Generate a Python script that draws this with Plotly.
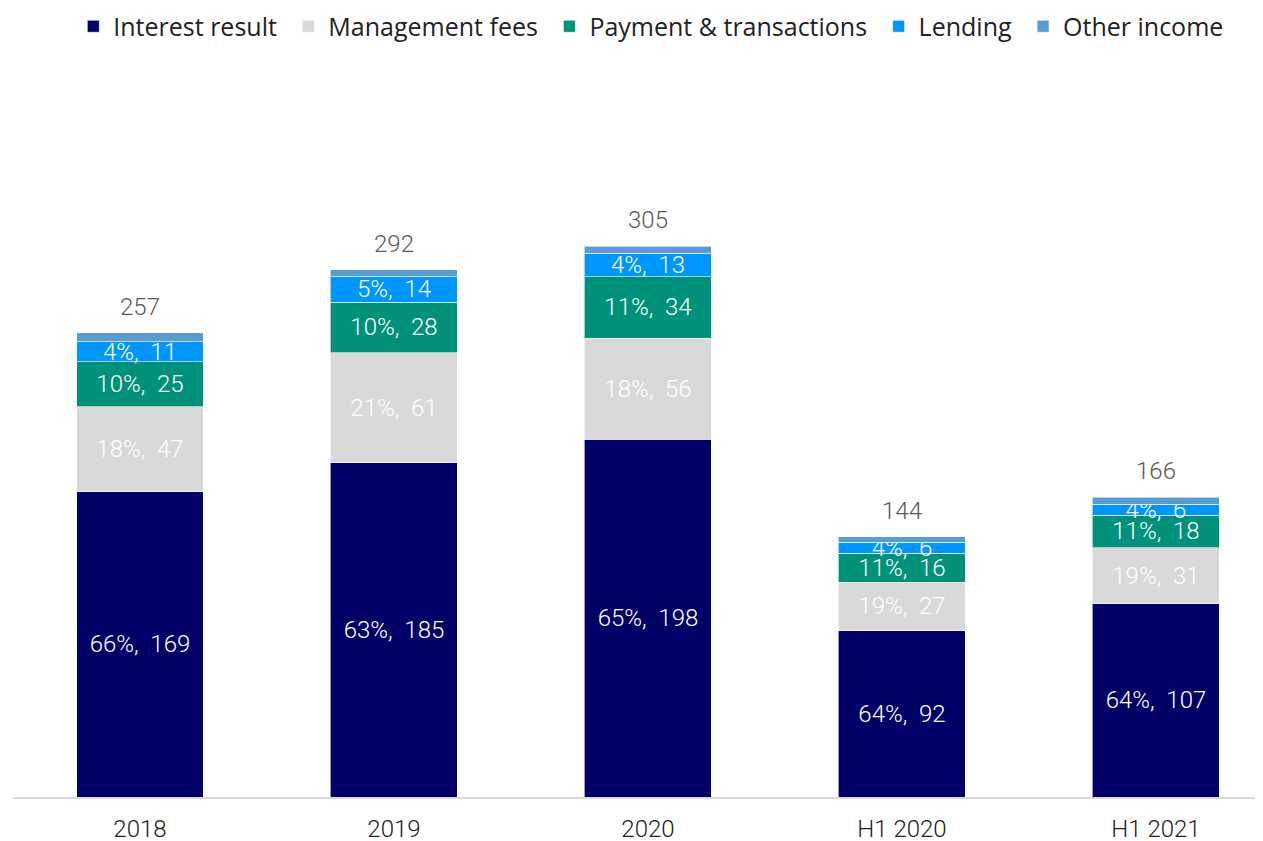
import plotly.graph_objects as go

categories = ["2018", "2019", "2020", "H1 2020", "H1 2021"]
interest = [169, 185, 198, 92, 107]
management = [47, 61, 56, 27, 31]
payment = [25, 28, 34, 16, 18]
lending = [11, 14, 13, 6, 6]
other = [5, 4, 4, 3, 4]
totals = [257, 292, 305, 144, 166]

series = [
    ("Interest result", interest, "#000066", True),
    ("Management fees", management, "#D9D9D9", True),
    ("Payment & transactions", payment, "#00917A", True),
    ("Lending", lending, "#0096FF", True),
    ("Other income", other, "#5B9BD5", False),
]

NB = "\u00a0"

fig = go.Figure()
for name, vals, color, show in series:
    texts = [f"{round(v / t * 100):.0f}%,  {v}" if show else "" for v, t in zip(vals, totals)]
    fig.add_trace(go.Bar(
        name=name + NB, x=categories, y=vals,
        marker=dict(color=color, line=dict(color="rgba(255,255,255,0.6)", width=1)),
        text=texts, textposition="inside", insidetextanchor="middle",
        textfont=dict(color="white", size=24, family="Roboto", weight=300),
        constraintext="none", width=0.5, hoverinfo="skip",
    ))

for i, t in enumerate(totals):
    fig.add_annotation(x=i, y=t, xref="x", yref="y", text=str(t), showarrow=False,
                       yanchor="middle", yshift=26,
                       font=dict(color="#595959", size=24, family="Roboto", weight=300))

fig.update_layout(
    barmode="stack",
    width=1263, height=841,
    margin=dict(l=5, r=0, t=52, b=52),
    plot_bgcolor="white", paper_bgcolor="white",
    uniformtext=dict(minsize=24, mode="show"),
    legend=dict(orientation="h", xref="container", yref="container", x=0.0517, y=0.978,
                xanchor="left", yanchor="middle",
                font=dict(size=25, color="#222222", family="Open Sans"), traceorder="normal",
                itemwidth=30),
    xaxis=dict(type="category", range=[-0.5, 4.453], showline=True, linecolor="#D9D9D9",
               linewidth=2, ticks="", ticklabelstandoff=9,
               tickfont=dict(size=24, color="#222222", family="Roboto", weight=300),
               fixedrange=True),
    yaxis=dict(range=[0, 408], visible=False, showgrid=False, fixedrange=True),
    font=dict(family="Roboto"),
)

fig.write_html("out.html")
